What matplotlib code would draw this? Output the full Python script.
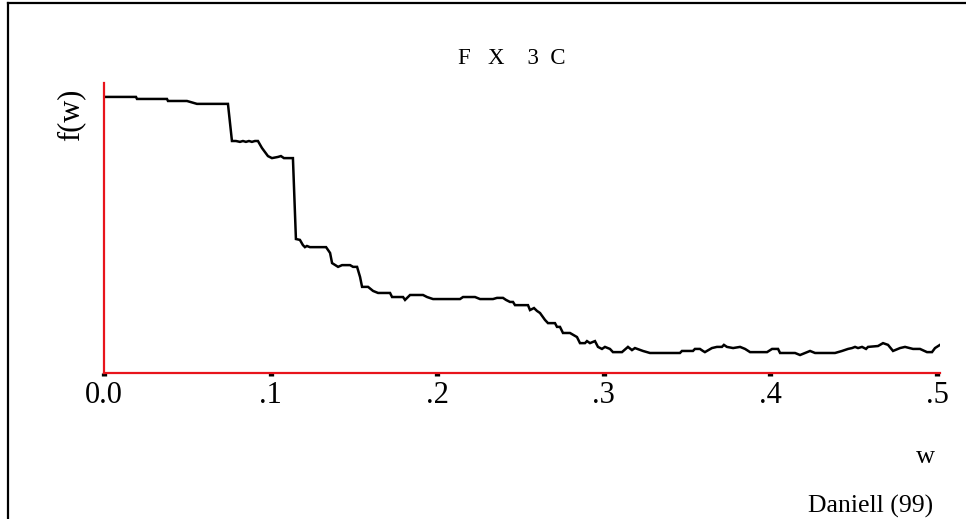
import matplotlib
matplotlib.use("Agg")
import matplotlib.pyplot as plt
from matplotlib.lines import Line2D

# Smoothed spectrum estimate, frequency w (cycles) vs f(w)
w = [0.0000, 0.0192, 0.0198, 0.0378, 0.0384, 0.0498, 0.0558, 0.0744, 0.0768, 0.0792,
     0.0816, 0.0834, 0.0852, 0.0870, 0.0888, 0.0906, 0.0924, 0.0948, 0.0984, 0.1008,
     0.1044, 0.1062, 0.1080, 0.1134, 0.1152, 0.1176, 0.1194, 0.1206, 0.1218, 0.1236,
     0.1333, 0.1357, 0.1369, 0.1405, 0.1429, 0.1477, 0.1495, 0.1519, 0.1537, 0.1549,
     0.1585, 0.1615, 0.1645, 0.1717, 0.1729, 0.1795, 0.1807, 0.1825, 0.1837, 0.1915,
     0.1939, 0.1975, 0.2137, 0.2155, 0.2227, 0.2257, 0.2335, 0.2359, 0.2395, 0.2413,
     0.2437, 0.2455, 0.2467, 0.2545, 0.2557, 0.2581, 0.2599, 0.2617, 0.2647, 0.2665,
     0.2707, 0.2719, 0.2737, 0.2755, 0.2797, 0.2839, 0.2857, 0.2887, 0.2899, 0.2917,
     0.2947, 0.2965, 0.2989, 0.3007, 0.3037, 0.3055, 0.3109, 0.3145, 0.3169, 0.3187,
     0.3235, 0.3277, 0.3457, 0.3469, 0.3535, 0.3547, 0.3577, 0.3595, 0.3607, 0.3649,
     0.3679, 0.3709, 0.3721, 0.3739, 0.3776, 0.3818, 0.3848, 0.3878, 0.3980, 0.4010,
     0.4046, 0.4058, 0.4148, 0.4178, 0.4208, 0.4238, 0.4268, 0.4388, 0.4430, 0.4466,
     0.4490, 0.4508, 0.4526, 0.4550, 0.4574, 0.4586, 0.4646, 0.4676, 0.4706, 0.4736,
     0.4778, 0.4808, 0.4856, 0.4898, 0.4940, 0.4970, 0.4988, 0.5018]
f = [95.2, 95.2, 94.5, 94.5, 93.8, 93.8, 92.8, 92.8, 80.0, 80.0,
     79.7, 80.0, 79.7, 80.0, 79.7, 80.0, 80.0, 77.6, 74.8, 74.1,
     74.5, 74.8, 74.1, 74.1, 46.2, 45.9, 44.1, 43.4, 43.8, 43.4,
     43.4, 41.4, 37.9, 36.6, 37.2, 37.2, 36.6, 36.6, 33.1, 29.7,
     29.7, 28.3, 27.6, 27.6, 26.2, 26.2, 25.2, 26.2, 26.9, 26.9,
     26.2, 25.5, 25.5, 26.2, 26.2, 25.5, 25.5, 25.9, 25.9, 25.2,
     24.5, 24.5, 23.4, 23.4, 21.7, 22.4, 21.4, 20.7, 18.3, 17.2,
     17.2, 15.9, 15.9, 13.8, 13.8, 12.4, 10.3, 10.3, 11.0, 10.3,
     11.0, 9.0, 8.3, 9.0, 8.3, 7.2, 7.2, 9.0, 7.9, 8.6,
     7.6, 6.9, 6.9, 7.6, 7.6, 8.3, 8.3, 7.6, 7.2, 8.6,
     9.0, 9.0, 9.7, 9.0, 8.6, 9.0, 8.3, 7.2, 7.2, 8.3,
     8.3, 6.9, 6.9, 6.2, 6.9, 7.6, 6.9, 6.9, 7.6, 8.3,
     8.6, 9.0, 8.6, 9.0, 8.3, 9.0, 9.3, 10.3, 9.7, 7.6,
     8.6, 9.0, 8.3, 8.3, 7.2, 7.2, 8.6, 9.7]

tick_pos = [0.0, 0.1, 0.2, 0.3, 0.4, 0.5]
tick_labels = ["0.0", ".1", ".2", ".3", ".4", ".5"]

serif = "Liberation Serif"
W, H = 966, 519
fig = plt.figure(figsize=(W / 100, H / 100), dpi=100)
fig.patch.set_facecolor("white")

ax = fig.add_axes([104 / W, (H - 373) / H, (940 - 104) / W, 290 / H])
ax.plot(w, f, color="black", lw=1.8, solid_joinstyle="miter")
ax.set_xlim(0, 0.5018)
ax.set_ylim(0, 100)

for side in ("top", "right"):
    ax.spines[side].set_visible(False)
for side in ("left", "bottom"):
    ax.spines[side].set_color("#e8141c")
    ax.spines[side].set_linewidth(1.6)

ax.set_yticks([])
ax.set_xticks(tick_pos)
ax.set_xticklabels(tick_labels, fontfamily=serif, fontsize=22)
ax.tick_params(axis="x", direction="out", length=2.5, width=3.8,
               color="black", pad=3)

# Header, axis names and smoothing note
fig.text(512 / W, 1 - 58 / H, "F   X    3  C", family=serif, fontsize=16.5,
         ha="center", va="center")
fig.text(71 / W, 1 - 115 / H, "f(w)", family=serif, fontsize=22,
         rotation=90, ha="center", va="center")
fig.text(925 / W, 1 - 457 / H, "w", family=serif, fontsize=19,
         ha="center", va="center")
fig.text(933 / W, 1 - 506 / H, "Daniell (99)", family=serif, fontsize=18.5,
         ha="right", va="center")

# Outer frame (left and top edges)
fig.add_artist(Line2D([8 / W, 8 / W], [0, 1 - 3 / H], transform=fig.transFigure,
                      color="black", lw=1.6))
fig.add_artist(Line2D([8 / W, 1], [1 - 3 / H, 1 - 3 / H], transform=fig.transFigure,
                      color="black", lw=1.6))

fig.savefig("out.png", dpi=100)
